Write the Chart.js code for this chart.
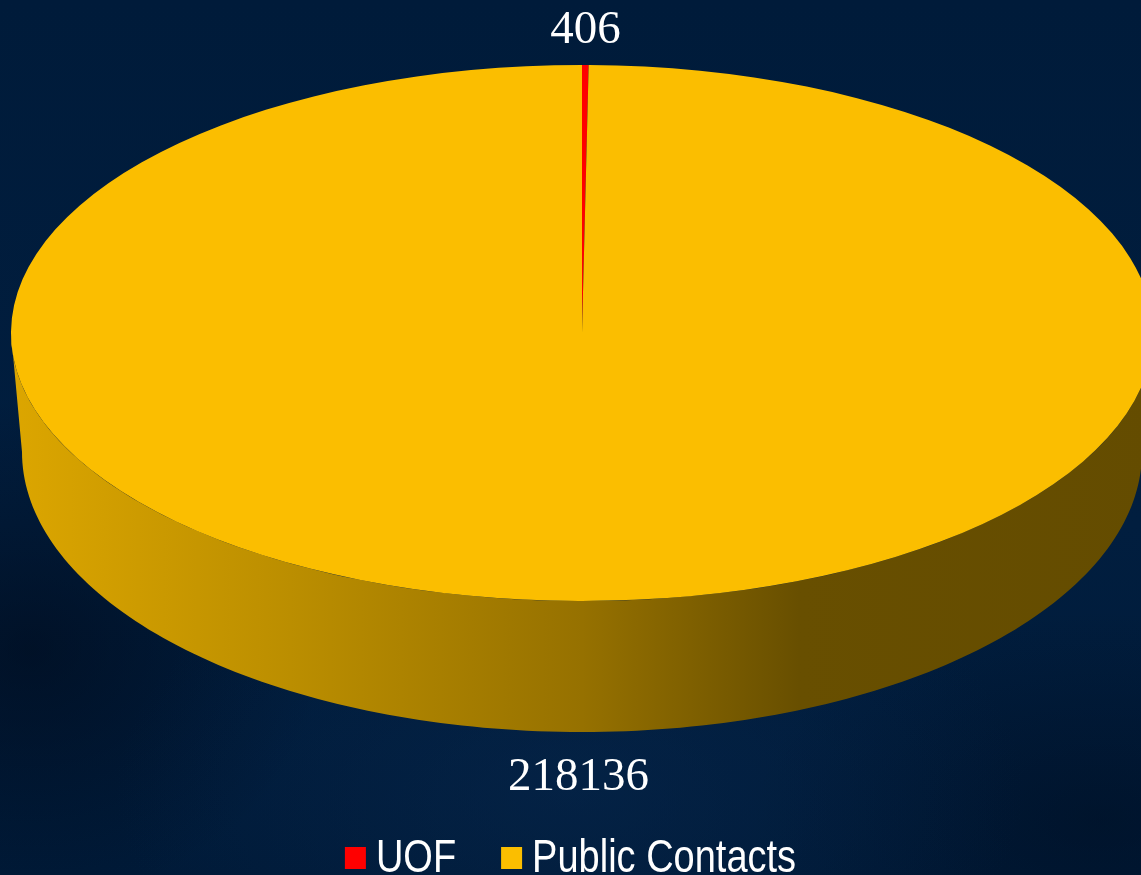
<!DOCTYPE html>
<html>
<head>
<meta charset="utf-8">
<script src="https://cdn.jsdelivr.net/npm/chart.js@4.4.1/dist/chart.umd.min.js"></script>
<style>
  html, body { margin: 0; padding: 0; width: 1141px; height: 875px; overflow: hidden; }
  body {
    background:
      radial-gradient(ellipse 650px 380px at 570px 790px, rgba(8,42,82,0.45), rgba(8,42,82,0) 70%),
      radial-gradient(ellipse 420px 360px at 30px 650px, rgba(0,8,22,0.55), rgba(0,8,22,0) 70%),
      radial-gradient(ellipse 500px 300px at 1100px 820px, rgba(0,10,26,0.4), rgba(0,10,26,0) 70%),
      linear-gradient(180deg, #001b3a 0%, #011e3f 60%, #001a38 100%);
  }
  #wrap { position: relative; width: 1141px; height: 875px; }
</style>
</head>
<body>
<div id="wrap"><canvas id="c"></canvas></div>
<script>
// data
const labels = ['UOF', 'Public Contacts'];
const values = [406, 218136];
const colors = ['#ff0000', '#fbbe00'];

// 3D pie geometry (screen px): top face and bottom rim of the disc
const TOP    = { cx: 582, cy: 333, rx: 571, ry: 268 };
const BOTTOM = { cx: 582, cy: 452, rx: 560, ry: 280 };

// side wall shading (fraction across the disc, brightness factor)
const SIDE_STOPS = [[0, 0.876], [0.245, 0.745], [0.5, 0.597], [0.69, 0.414], [1, 0.40]];

function shade(hex, f) {
  const n = parseInt(hex.slice(1), 16);
  const r = Math.round(((n >> 16) & 255) * f);
  const g = Math.round(((n >> 8) & 255) * f);
  const b = Math.round((n & 255) * f);
  return `rgb(${r},${g},${b})`;
}

// point on a slice rim at angle t, mapped onto an ellipse
function rim(el, t, E) {
  return [E.cx + E.rx * Math.cos(t), E.cy + E.ry * Math.sin(t)];
}

const pie3d = {
  id: 'pie3d',
  beforeDatasetsDraw(chart) {
    const ctx  = chart.ctx;
    const meta = chart.getDatasetMeta(0);

    // side walls (front half only)
    meta.data.forEach((el, i) => {
      const base = chart.data.datasets[0].backgroundColor[i];
      [[0, Math.PI], [2 * Math.PI, 3 * Math.PI]].forEach(([lo, hi]) => {
        const a0 = Math.max(lo, el.startAngle);
        const a1 = Math.min(hi, el.endAngle);
        if (a1 <= a0) return;
        const steps = 160;
        ctx.beginPath();
        for (let k = 0; k <= steps; k++) {
          const p = rim(el, a0 + (a1 - a0) * k / steps, TOP);
          k === 0 ? ctx.moveTo(p[0], p[1]) : ctx.lineTo(p[0], p[1]);
        }
        for (let k = steps; k >= 0; k--) {
          const p = rim(el, a0 + (a1 - a0) * k / steps, BOTTOM);
          ctx.lineTo(p[0], p[1]);
        }
        ctx.closePath();
        const g = ctx.createLinearGradient(TOP.cx - TOP.rx, 0, TOP.cx + TOP.rx, 0);
        SIDE_STOPS.forEach(([pos, f]) => g.addColorStop(pos, shade(base, f)));
        ctx.fillStyle = g;
        ctx.fill();
      });
    });

    // squash the flat pie into the top ellipse
    const el = meta.data[0];
    const R  = el.outerRadius;
    ctx.save();
    ctx.transform(
      TOP.rx / R, 0, 0, TOP.ry / R,
      TOP.cx - TOP.rx * el.x / R,
      TOP.cy - TOP.ry * el.y / R
    );
  },
  afterDatasetsDraw(chart) {
    const ctx  = chart.ctx;
    ctx.restore();
    const meta = chart.getDatasetMeta(0);
    const ds   = chart.data.datasets[0];

    // value labels
    ctx.save();
    ctx.fillStyle    = '#ffffff';
    ctx.font         = "47px 'Liberation Serif', 'Times New Roman', serif";
    ctx.textAlign    = 'center';
    ctx.textBaseline = 'middle';
    meta.data.forEach((el, i) => {
      const m     = (el.startAngle + el.endAngle) / 2;
      const front = Math.sin(m) > 0;
      const p     = rim(el, m, front ? BOTTOM : TOP);
      const off   = front ? 44 : 36;
      ctx.fillText(String(ds.data[i]), p[0] + off * Math.cos(m), p[1] + off * Math.sin(m) + 2);
    });

    // legend
    ctx.font         = "38px 'Liberation Sans', Arial, sans-serif";
    ctx.textAlign    = 'left';
    ctx.textBaseline = 'alphabetic';
    const box = 21, gapText = 10, gapItem = 45;
    const widths = chart.data.labels.map((l) => box + gapText + ctx.measureText(l).width);
    const total  = widths.reduce((a, b) => a + b, 0) + gapItem * (widths.length - 1);
    let x = (chart.width - total) / 2;
    chart.data.labels.forEach((l, i) => {
      ctx.fillStyle = ds.backgroundColor[i];
      ctx.fillRect(x, 847, box, 22);
      ctx.fillStyle = '#ffffff';
      ctx.save();
      ctx.translate(x + box + gapText, 872);
      ctx.scale(1, 1.2);
      ctx.fillText(l, 0, 0);
      ctx.restore();
      x += widths[i] + gapItem;
    });
    ctx.restore();
  },
};

new Chart(document.getElementById('c'), {
  type: 'pie',
  data: {
    labels: labels,
    datasets: [{
      data:            values,
      backgroundColor: colors,
      borderWidth:     0,
    }],
  },
  options: {
    responsive:          true,
    maintainAspectRatio: false,
    animation:           false,
    events:              [],
    layout:              { padding: 40 },
    plugins: {
      legend:  { display: false },
      tooltip: { enabled: false },
    },
  },
  plugins: [pie3d],
});
</script>
</body>
</html>
